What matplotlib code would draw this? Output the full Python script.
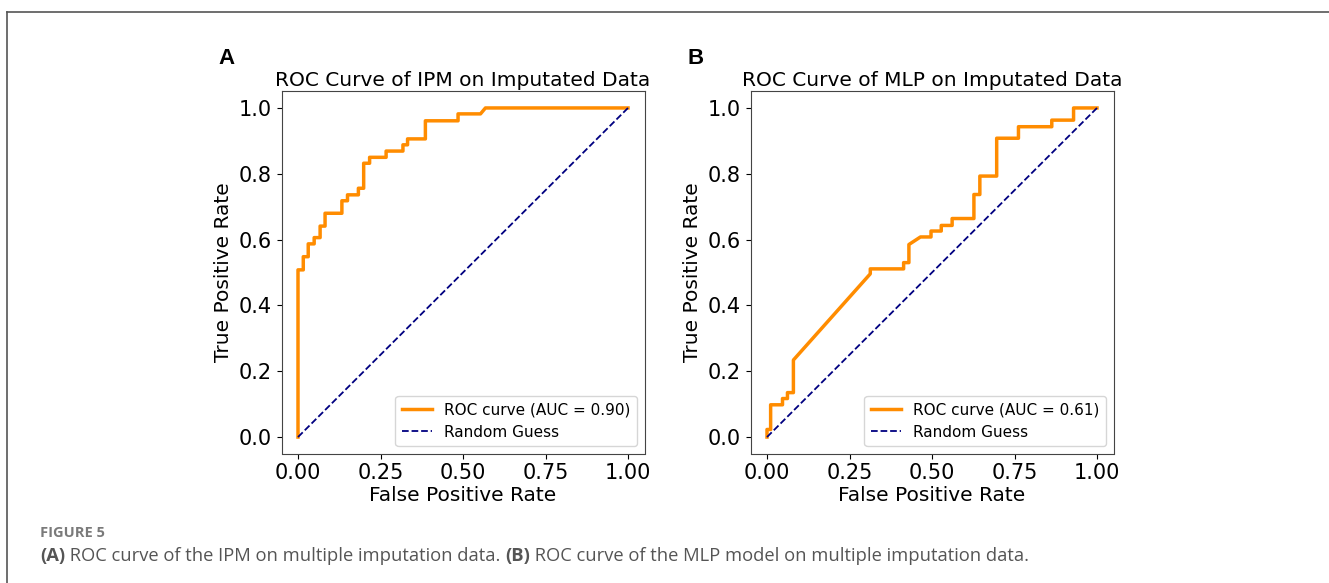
import matplotlib
matplotlib.use("Agg")
import matplotlib.pyplot as plt
from matplotlib.lines import Line2D

# ROC of IPM (panel A)
ipm_fpr = [0.0, 0.0, 0.016, 0.016, 0.031, 0.031, 0.049, 0.049, 0.067, 0.067,
           0.082, 0.082, 0.133, 0.133, 0.150, 0.150, 0.183, 0.183, 0.199, 0.199,
           0.217, 0.217, 0.267, 0.267, 0.318, 0.318, 0.332, 0.332, 0.386, 0.386,
           0.485, 0.485, 0.553, 0.568, 1.0]
ipm_tpr = [0.0, 0.508, 0.508, 0.548, 0.548, 0.587, 0.587, 0.606, 0.606, 0.641,
           0.641, 0.680, 0.680, 0.718, 0.718, 0.736, 0.736, 0.756, 0.756, 0.832,
           0.832, 0.850, 0.850, 0.869, 0.869, 0.888, 0.888, 0.906, 0.906, 0.961,
           0.961, 0.982, 0.982, 1.0, 1.0]

# ROC of MLP (panel B)
mlp_fpr = [0.0, 0.0, 0.011, 0.011, 0.047, 0.047, 0.062, 0.062, 0.080, 0.080,
           0.313, 0.313, 0.414, 0.414, 0.430, 0.430, 0.465, 0.497, 0.497, 0.528,
           0.528, 0.561, 0.561, 0.627, 0.627, 0.645, 0.645, 0.696, 0.696, 0.762,
           0.762, 0.863, 0.863, 0.929, 0.929, 1.0]
mlp_tpr = [0.0, 0.023, 0.023, 0.098, 0.098, 0.117, 0.117, 0.135, 0.135, 0.234,
           0.496, 0.511, 0.511, 0.530, 0.530, 0.585, 0.608, 0.608, 0.626, 0.626,
           0.643, 0.643, 0.664, 0.664, 0.737, 0.737, 0.793, 0.793, 0.908, 0.908,
           0.943, 0.943, 0.963, 0.963, 1.0, 1.0]

panels = [
    ("A", "ROC Curve of IPM on Imputated Data", ipm_fpr, ipm_tpr, 0.90),
    ("B", "ROC Curve of MLP on Imputated Data", mlp_fpr, mlp_tpr, 0.61),
]
ticks_x = [0.00, 0.25, 0.50, 0.75, 1.00]
ticks_y = [0.0, 0.2, 0.4, 0.6, 0.8, 1.0]

W, H = 1329, 583
fig = plt.figure(figsize=(W / 100, H / 100), dpi=100)

# outer frame of the figure page (top and left edges only)
fig.add_artist(Line2D([7 / W, 7 / W], [0, 1 - 12 / H], color="#555555", lw=1.2))
fig.add_artist(Line2D([7 / W, 1], [1 - 12 / H, 1 - 12 / H], color="#555555", lw=1.2))

lefts = [281.5, 750.5]
for (letter, title, fpr, tpr, auc), lx in zip(panels, lefts):
    ax = fig.add_axes([lx / W, (H - 453.5) / H, 363 / W, 362 / H])
    ax.plot(fpr, tpr, color="darkorange", lw=2.5, label=f"ROC curve (AUC = {auc:.2f})")
    ax.plot([0, 1], [0, 1], color="navy", lw=1.3, ls="--", label="Random Guess")
    ax.set_xticks(ticks_x)
    ax.set_yticks(ticks_y)
    ax.tick_params(labelsize=15)
    ax.set_xlabel("False Positive Rate", fontsize=14.5, labelpad=2)
    ax.set_ylabel("True Positive Rate", fontsize=14.5)
    ax.set_title(title, fontsize=14.5, pad=4)
    ax.legend(loc="lower right", fontsize=11)
    for s in ax.spines.values():
        s.set_color("#444444")
    fig.text((lx - 63) / W, 1 - 58 / H, letter, fontsize=16, fontweight="bold",
             family="Liberation Sans", va="center", ha="left")

# caption
fig.text(40 / W, 1 - 533 / H, "FIGURE 5", fontsize=10.5, color="#7a7a7a",
         family="Open Sans", fontweight="bold", va="center")

renderer = fig.canvas.get_renderer()
parts = [("(A)", "bold"), (" ROC curve of the IPM on multiple imputation data. ", "normal"),
         ("(B)", "bold"), (" ROC curve of the MLP model on multiple imputation data.", "normal")]
x = 40 / W
for txt, wt in parts:
    t = fig.text(x, 1 - 556 / H, txt, fontsize=13.2, color="#555555", family="Open Sans",
                 fontweight=wt, va="center")
    bb = t.get_window_extent(renderer=renderer)
    x += bb.width / W

fig.savefig("out.png", dpi=100)
